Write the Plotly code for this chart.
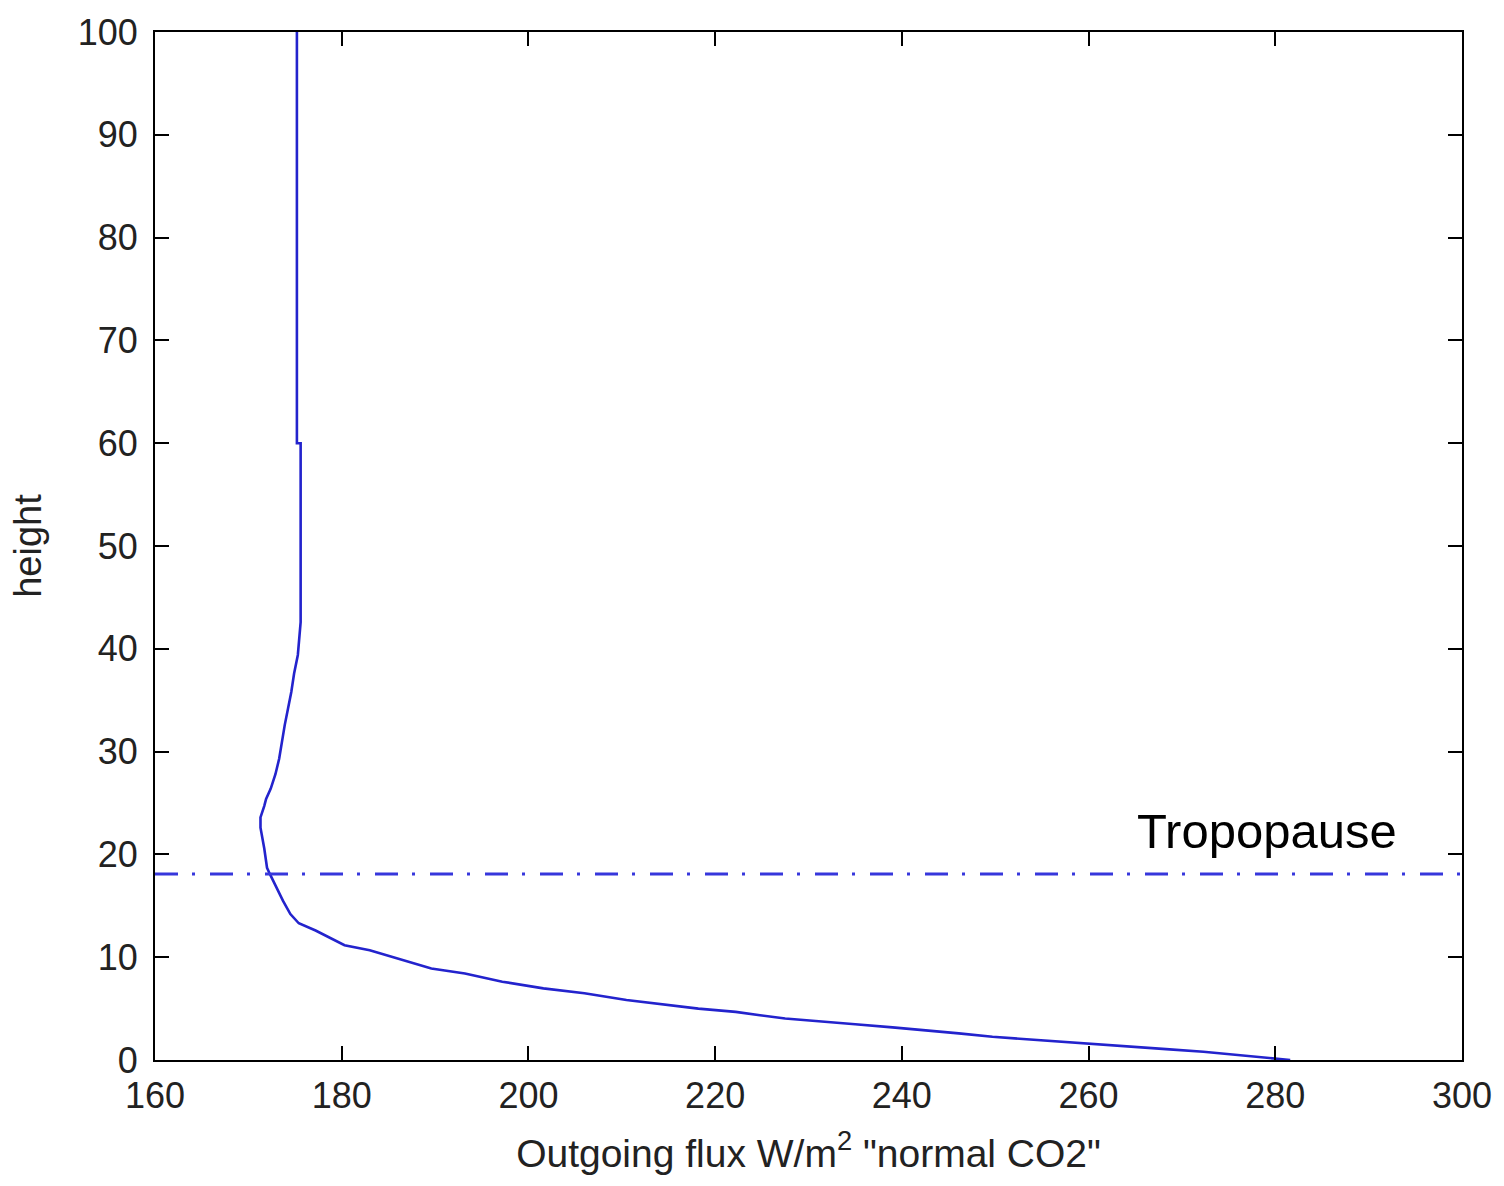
import plotly.graph_objects as go

# Outgoing flux profile ("normal CO2")
height = [0, 0.16, 0.48, 0.8, 1.06, 1.38, 1.71, 2.0, 2.26, 2.59, 2.9, 3.17, 3.48, 3.8,
          4.04, 4.36, 4.68, 5.0, 5.84, 6.49, 6.97, 7.62, 8.42, 8.9, 9.87, 10.68, 11.16,
          12.6, 13.3, 14.2, 15.5, 17.1, 18.1, 18.7, 20.6, 22.6, 23.6, 24.7, 25.4, 26.4,
          27.8, 29.3, 31.0, 32.6, 34.2, 35.8, 37.6, 39.4, 42.6, 60, 60, 100]
flux = [281.6, 279.8, 275.8, 272.3, 268.3, 263.4, 258.1, 253.7, 249.7, 246.1, 242.6,
        239.0, 235.0, 231.0, 227.5, 224.8, 222.2, 218.2, 210.5, 206.0, 201.6, 197.2,
        193.2, 189.6, 186.1, 183.0, 180.3, 177.2, 175.4, 174.5, 173.7, 172.8, 172.3,
        172.0, 171.7, 171.3, 171.3, 171.7, 171.9, 172.4, 172.9, 173.3, 173.6, 173.9,
        174.25, 174.6, 174.9, 175.3, 175.6, 175.6, 175.2, 175.2]

tropopause_height = 18.1
tropopause_label = "Tropopause"
x_range = [160, 300]
y_range = [0, 100]

fig = go.Figure()
fig.add_trace(go.Scatter(x=flux, y=height, mode="lines",
                         line=dict(color="rgb(35,35,205)", width=2.6),
                         showlegend=False, hoverinfo="skip"))
fig.add_trace(go.Scatter(x=x_range, y=[tropopause_height, tropopause_height], mode="lines",
                         line=dict(color="rgb(55,55,220)", width=3,
                                   dash="23px,14px,3px,15px"),
                         showlegend=False, hoverinfo="skip"))

fig.add_annotation(x=265.0, y=22.3, xref="x", yref="y", text=tropopause_label,
                   showarrow=False, xanchor="left", yanchor="middle",
                   font=dict(family="Liberation Sans, Arial", size=49, color="black"))

axis_common = dict(showline=True, linecolor="black", linewidth=2, mirror="ticks",
                   ticks="inside", ticklen=14, tickwidth=2, tickcolor="black",
                   showgrid=False, zeroline=False,
                   tickfont=dict(family="Liberation Sans, Arial", size=36, color="#222"))

fig.update_xaxes(range=x_range, dtick=20, tick0=160,
                 title=dict(text='Outgoing flux W/m<sup>2</sup> "normal CO2"',
                            font=dict(family="Liberation Sans, Arial", size=39, color="#222"),
                            standoff=24),
                 ticklabelstandoff=3, **axis_common)
fig.update_yaxes(range=y_range, dtick=10, tick0=0,
                 title=dict(text="height",
                            font=dict(family="Liberation Sans, Arial", size=38, color="#222"),
                            standoff=24),
                 ticklabelstandoff=8, **axis_common)

fig.update_layout(width=1504, height=1186, autosize=False,
                  margin=dict(l=155, r=39, t=27, b=126),
                  paper_bgcolor="white", plot_bgcolor="white")

fig.write_html("out.html")
